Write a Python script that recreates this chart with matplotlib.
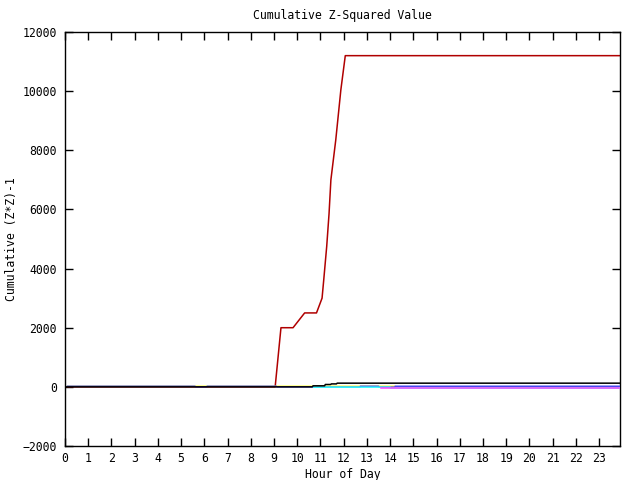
import matplotlib
matplotlib.use("Agg")
import matplotlib.pyplot as plt

# cumulative (Z*Z)-1 per series
red_x = [0.1, 9.05, 9.3, 9.82, 10.32, 10.83, 11.07, 11.14, 11.27, 11.37, 11.45, 11.66, 11.88, 12.07, 23.9]
red_y = [0, 0, 2000, 2000, 2500, 2500, 3000, 3600, 4750, 5850, 7000, 8350, 10050, 11200, 11200]

black_x = [0.0, 10.65, 10.68, 11.18, 11.21, 11.44, 11.47, 11.69, 11.72, 23.9]
black_y = [0, 0, 35, 35, 80, 80, 100, 100, 125, 125]

yellow_x = [0.1, 14.2, 14.25, 23.9]
yellow_y = [20, 20, -10, -10]

blue_x = [0.1, 5.6, 5.62, 6.1, 6.12, 9.1, 9.12, 10.7, 10.72, 12.7, 12.72, 13.5, 13.52, 14.2, 14.22, 23.9]
blue_y = [20, 20, 0, 0, 20, 20, 0, 0, -10, -10, 20, 20, -10, -10, 20, 20]

cyan_x = [10.7, 14.0, 14.02, 23.9]
cyan_y = [-10, -10, -40, -40]

magenta_x = [13.6, 23.9]
magenta_y = [-40, -40]

xticks = list(range(0, 24))
yticks = list(range(-2000, 12001, 2000))

mono = "DejaVu Sans Mono"
fs = 8.3

fig = plt.figure(figsize=(6.4, 4.8), dpi=100)
ax = fig.add_axes([65 / 640, 34 / 480, 555 / 640, 414 / 480])

ax.plot(red_x, red_y, color="#b00000", lw=1.1, zorder=2)
ax.plot(yellow_x, yellow_y, color="#ffff33", lw=1.1, zorder=3)
ax.plot(blue_x, blue_y, color="#4848f0", lw=1.1, zorder=4)
ax.plot(cyan_x, cyan_y, color="#33ffff", lw=1.1, zorder=5)
ax.plot(magenta_x, magenta_y, color="#ff44ff", lw=1.1, zorder=6)
ax.plot(black_x, black_y, color="black", lw=1.1, zorder=7)

ax.set_xlim(0, 23.9)
ax.set_ylim(-2000, 12000)
ax.set_xticks(xticks)
ax.set_yticks(yticks)
ax.tick_params(direction="in", length=6, width=1, top=True, right=True,
               labelsize=fs)
ax.tick_params(axis="x", pad=4.5)
ax.tick_params(axis="y", pad=5.8)
for lab in ax.get_xticklabels() + ax.get_yticklabels():
    lab.set_family(mono)
for s in ax.spines.values():
    s.set_linewidth(1)

ax.set_title("Cumulative Z-Squared Value", fontsize=fs, family=mono, pad=9.5)
ax.set_xlabel("Hour of Day", fontsize=fs, family=mono, labelpad=2)
ax.set_ylabel("Cumulative (Z*Z)-1", fontsize=fs, family=mono, labelpad=3.5)

fig.savefig("out.png", dpi=100)
